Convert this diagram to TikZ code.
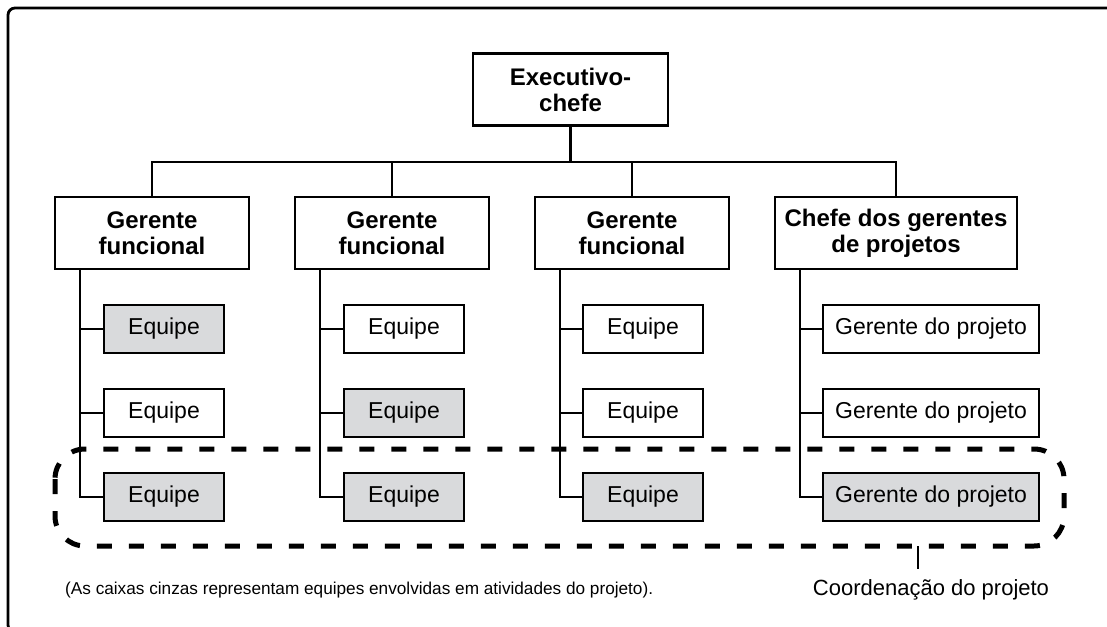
\documentclass[tikz,border=0pt]{standalone}
\usepackage{fontspec}
\setmainfont{Liberation Sans}
\usetikzlibrary{calc}
\definecolor{boxgray}{RGB}{217,218,220}
\tikzset{
  hdr/.style={draw, line width=2.6pt, fill=white, align=center,
    font=\fontsize{24}{26}\selectfont\bfseries, minimum height=72pt, inner sep=0pt},
  kid/.style={draw, line width=2.6pt, fill=white, minimum width=120pt, minimum height=48pt,
    font=\fontsize{23}{26}\selectfont, inner sep=0pt},
  kidgray/.style={kid, fill=boxgray},
  conn/.style={line width=2.3pt},
  frame/.style={line width=2.8pt, rounded corners=7pt},
  coordline/.style={line width=5pt, dash pattern=on 15pt off 17pt, rounded corners=30pt},
}
\begin{document}
\begin{tikzpicture}[x=1pt,y=-1pt]
\useasboundingbox (0,0) rectangle (1107,626);
% outer frame (right and bottom edges lie outside the picture)
\draw[frame] (1120,8) -- (8,8) -- (8,632) -- (1120,632);

% top level
\node[hdr, minimum width=195pt] (exec) at (570.5,89.5) {Executivo-\\chefe};

% managers
\node[hdr, minimum width=194pt] (c1) at (152,233) {Gerente\\funcional};
\node[hdr, minimum width=194pt] (c2) at (392,233) {Gerente\\funcional};
\node[hdr, minimum width=194pt] (c3) at (632,233) {Gerente\\funcional};
\node[hdr, minimum width=242pt] (c4) at (896,233) {Chefe dos gerentes\\de projetos};

% bus
\coordinate (bus) at (152,162);
\draw[conn] (c1.north) -- (c1.north |- bus) -- (c4.north |- bus) -- (c4.north);
\draw[conn] (exec.south) -- (exec.south |- bus);
\draw[conn] (c2.north) -- (c2.north |- bus);
\draw[conn] (c3.north) -- (c3.north |- bus);

% children
\node[kidgray] (e11) at (164,329) {Equipe};
\node[kid]     (e12) at (164,413) {Equipe};
\node[kidgray] (e13) at (164,497) {Equipe};

\node[kid]     (e21) at (404,329) {Equipe};
\node[kidgray] (e22) at (404,413) {Equipe};
\node[kidgray] (e23) at (404,497) {Equipe};

\node[kid]     (e31) at (643,329) {Equipe};
\node[kid]     (e32) at (643,413) {Equipe};
\node[kidgray] (e33) at (643,497) {Equipe};

\node[kid, minimum width=216pt]     (e41) at (931,329) {Gerente do projeto};
\node[kid, minimum width=216pt]     (e42) at (931,413) {Gerente do projeto};
\node[kidgray, minimum width=216pt] (e43) at (931,497) {Gerente do projeto};

% trunks
\coordinate (k1) at (80,0);
\coordinate (k2) at (320,0);
\coordinate (k3) at (560,0);
\coordinate (k4) at (800,0);
\foreach \c/\k/\a/\b/\d in {c1/k1/e11/e12/e13, c2/k2/e21/e22/e23, c3/k3/e31/e32/e33, c4/k4/e41/e42/e43}{
  \draw[conn] (\k |- \c.south) -- (\k |- \d.west) -- (\d.west);
  \draw[conn] (\k |- \a.west) -- (\a.west);
  \draw[conn] (\k |- \b.west) -- (\b.west);
}

% project coordination region
\draw[coordline] (55,449) rectangle (1064,546);
\coordinate (pt) at (918,546);
\coordinate (pe) at (918,569);
\draw[conn] (pt) -- (pe);
\node[anchor=base, font=\fontsize{22}{26}\selectfont, inner sep=0pt] (coord) at (931,595) {Coordenação do projeto};

% note
\node[anchor=base west, font=\fontsize{17.2}{20}\selectfont, inner sep=0pt] (note) at (65,594)
  {(As caixas cinzas representam equipes envolvidas em atividades do projeto).};
\end{tikzpicture}
\end{document}
